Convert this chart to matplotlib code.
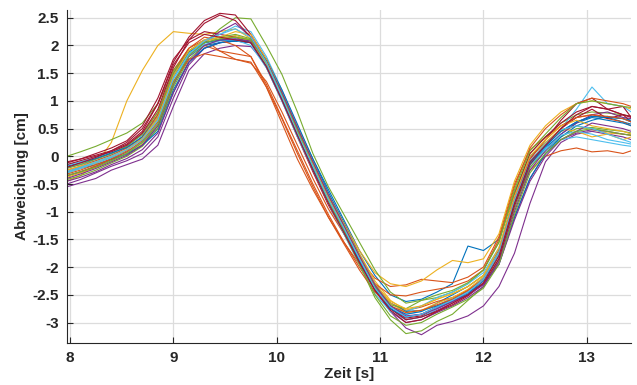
import numpy as np
import matplotlib
matplotlib.use("Agg")
import matplotlib.pyplot as plt

plt.rcParams['font.family'] = ['Liberation Sans', 'DejaVu Sans']

# Zeitachse (s)
zeit = [7.97, 8.10, 8.25, 8.40, 8.55, 8.70, 8.85, 9.00, 9.15, 9.30, 9.45, 9.60, 9.75, 9.90,
        10.05, 10.20, 10.35, 10.50, 10.65, 10.80, 10.95, 11.10, 11.25, 11.40, 11.55, 11.70,
        11.85, 12.00, 12.15, 12.30, 12.45, 12.60, 12.75, 12.90, 13.05, 13.20, 13.35, 13.43]

# Abweichung je Durchgang (cm)
d01 = [-0.30,-0.22,-0.15,-0.05,0.05,0.20,0.50,1.20,1.70,1.95,2.05,2.08,2.05,1.70,1.15,0.55,-0.05,-0.60,-1.15,-1.70,-2.15,-2.50,-2.62,-2.58,-2.45,-2.30,-1.62,-1.70,-1.50,-0.65,0.00,0.25,0.45,0.62,0.72,0.70,0.62,0.58]
d02 = [-0.20,-0.15,-0.05,0.05,0.18,0.40,0.80,1.55,1.95,2.10,1.90,1.75,1.68,1.35,0.80,0.20,-0.40,-0.95,-1.40,-1.85,-2.20,-2.35,-2.32,-2.22,-2.25,-2.28,-2.18,-2.00,-1.45,-0.50,0.12,0.35,0.55,0.70,0.75,0.68,0.62,0.55]
d03 = [-0.45,-0.35,-0.15,0.25,1.00,1.55,2.00,2.25,2.22,2.20,2.25,2.30,2.12,1.70,1.10,0.45,-0.15,-0.70,-1.20,-1.70,-2.10,-2.30,-2.35,-2.25,-2.05,-1.88,-1.92,-1.85,-1.40,-0.45,0.20,0.55,0.80,0.95,1.00,0.95,0.90,0.85]
d04 = [-0.55,-0.48,-0.40,-0.25,-0.15,-0.05,0.20,0.90,1.55,1.85,1.95,2.00,1.98,1.65,1.10,0.50,-0.10,-0.70,-1.25,-1.85,-2.40,-2.80,-3.10,-3.22,-3.05,-2.98,-2.88,-2.70,-2.35,-1.75,-0.85,-0.10,0.25,0.40,0.45,0.40,0.35,0.30]
d05 = [0.00,0.08,0.18,0.30,0.42,0.60,0.95,1.55,1.90,2.05,2.30,2.50,2.48,2.00,1.48,0.80,0.05,-0.55,-1.05,-1.55,-2.05,-2.45,-2.65,-2.60,-2.55,-2.45,-2.30,-2.05,-1.55,-0.65,0.05,0.35,0.60,0.75,0.80,0.78,0.75,0.72]
d06 = [-0.15,-0.10,-0.02,0.08,0.20,0.38,0.75,1.50,1.90,2.10,2.20,2.35,2.25,1.80,1.20,0.55,-0.10,-0.70,-1.25,-1.85,-2.35,-2.70,-2.85,-2.80,-2.70,-2.55,-2.45,-2.20,-1.75,-0.85,-0.20,0.15,0.50,0.85,1.25,0.95,0.90,0.80]
d07 = [-0.10,-0.05,0.02,0.10,0.22,0.45,0.95,1.70,2.15,2.45,2.58,2.55,2.20,1.75,1.15,0.50,-0.15,-0.75,-1.30,-1.85,-2.35,-2.70,-2.90,-2.85,-2.72,-2.60,-2.45,-2.20,-1.70,-0.75,-0.05,0.30,0.65,0.95,1.05,0.85,0.90,0.70]
d08 = [-0.28,-0.20,-0.12,-0.02,0.08,0.25,0.55,1.30,1.80,2.00,2.05,2.08,2.05,1.68,1.10,0.45,-0.12,-0.72,-1.25,-1.82,-2.35,-2.72,-2.85,-2.80,-2.65,-2.50,-2.35,-2.15,-1.70,-0.80,-0.15,0.15,0.40,0.60,0.70,0.65,0.60,0.55]
d09 = [-0.32,-0.25,-0.15,-0.05,0.10,0.35,0.75,1.45,1.85,2.00,1.90,1.85,1.80,1.30,0.70,0.10,-0.50,-1.05,-1.55,-2.00,-2.40,-2.65,-2.78,-2.72,-2.62,-2.55,-2.42,-2.20,-1.75,-0.85,-0.25,0.00,0.10,0.15,0.08,0.10,0.05,0.10]
d10 = [-0.38,-0.30,-0.20,-0.08,0.05,0.22,0.55,1.30,1.80,2.05,2.12,2.18,2.10,1.70,1.12,0.50,-0.10,-0.70,-1.20,-1.75,-2.25,-2.60,-2.78,-2.70,-2.58,-2.48,-2.35,-2.15,-1.70,-0.80,-0.10,0.22,0.45,0.55,0.48,0.42,0.40,0.38]
d11 = [-0.50,-0.42,-0.30,-0.18,-0.08,0.05,0.35,1.05,1.65,1.95,2.05,2.10,2.05,1.70,1.15,0.50,-0.15,-0.75,-1.30,-1.85,-2.35,-2.75,-2.95,-2.90,-2.78,-2.65,-2.50,-2.30,-1.90,-1.10,-0.40,0.05,0.30,0.42,0.48,0.45,0.40,0.38]
d12 = [-0.42,-0.35,-0.25,-0.12,0.00,0.18,0.50,1.25,1.75,2.00,2.10,2.15,2.10,1.68,1.08,0.42,-0.20,-0.82,-1.40,-1.95,-2.55,-2.95,-3.20,-3.15,-2.98,-2.85,-2.60,-2.35,-1.85,-0.95,-0.20,0.10,0.35,0.50,0.52,0.48,0.45,0.42]
d13 = [-0.20,-0.15,-0.08,0.03,0.15,0.32,0.65,1.40,1.85,2.05,2.10,2.12,2.05,1.65,1.05,0.40,-0.22,-0.80,-1.30,-1.85,-2.40,-2.72,-2.80,-2.70,-2.55,-2.45,-2.30,-2.10,-1.65,-0.75,-0.10,0.15,0.30,0.35,0.30,0.25,0.20,0.18]
d14 = [-0.12,-0.05,0.05,0.15,0.28,0.55,1.05,1.75,2.10,2.25,2.20,2.15,2.05,1.60,1.00,0.35,-0.28,-0.88,-1.38,-1.90,-2.40,-2.75,-2.92,-2.88,-2.75,-2.62,-2.45,-2.22,-1.70,-0.70,0.05,0.35,0.60,0.80,0.90,0.85,0.75,0.70]
d15 = [-0.35,-0.28,-0.18,-0.06,0.04,0.20,0.45,1.15,1.70,1.95,2.05,2.08,2.08,1.75,1.20,0.58,-0.05,-0.65,-1.20,-1.78,-2.30,-2.65,-2.80,-2.78,-2.70,-2.58,-2.45,-2.30,-1.95,-1.10,-0.40,0.05,0.35,0.55,0.65,0.72,0.68,0.62]
d16 = [-0.25,-0.18,-0.08,0.02,0.15,0.35,0.75,1.50,1.95,2.15,2.10,2.00,1.80,1.25,0.60,-0.05,-0.60,-1.10,-1.55,-1.95,-2.30,-2.50,-2.52,-2.45,-2.40,-2.35,-2.25,-2.05,-1.50,-0.55,0.15,0.50,0.75,0.95,1.05,1.00,0.95,0.90]
d17 = [-0.30,-0.22,-0.12,0.00,0.12,0.30,0.68,1.45,1.90,2.10,2.15,2.25,2.20,1.75,1.15,0.52,-0.10,-0.70,-1.22,-1.78,-2.30,-2.65,-2.82,-2.78,-2.65,-2.55,-2.40,-2.18,-1.72,-0.80,-0.10,0.25,0.50,0.45,0.35,0.40,0.30,0.35]
d18 = [-0.40,-0.32,-0.22,-0.10,0.02,0.20,0.55,1.30,1.80,2.05,2.25,2.40,2.15,1.70,1.10,0.45,-0.18,-0.78,-1.32,-1.88,-2.42,-2.80,-3.00,-2.95,-2.82,-2.70,-2.55,-2.35,-1.90,-1.00,-0.25,0.10,0.40,0.60,0.75,0.80,0.70,0.68]
d19 = [-0.22,-0.15,-0.05,0.05,0.18,0.40,0.80,1.50,1.90,2.08,2.15,2.20,2.12,1.72,1.12,0.48,-0.15,-0.75,-1.28,-1.82,-2.35,-2.68,-2.75,-2.60,-2.50,-2.42,-2.28,-2.05,-1.55,-0.60,0.10,0.40,0.70,0.95,1.00,0.95,0.90,0.88]
d20 = [-0.30,-0.22,-0.12,-0.02,0.08,0.25,0.60,1.35,1.82,2.02,2.08,2.10,2.00,1.60,1.00,0.35,-0.25,-0.85,-1.40,-1.95,-2.48,-2.80,-2.95,-2.90,-2.75,-2.60,-2.45,-2.20,-1.72,-0.80,-0.15,0.12,0.38,0.45,0.40,0.30,0.25,0.22]
d21 = [-0.15,-0.08,0.00,0.08,0.20,0.42,0.85,1.60,2.10,2.40,2.55,2.45,2.15,1.70,1.10,0.45,-0.18,-0.80,-1.35,-1.90,-2.40,-2.75,-2.95,-2.90,-2.80,-2.68,-2.52,-2.30,-1.85,-0.90,-0.15,0.20,0.50,0.70,0.85,0.68,0.75,0.62]
d22 = [-0.18,-0.12,-0.04,0.06,0.16,0.35,0.70,1.45,1.88,2.05,2.10,2.10,2.05,1.62,1.02,0.38,-0.22,-0.80,-1.32,-1.88,-2.40,-2.75,-2.90,-2.85,-2.72,-2.62,-2.48,-2.25,-1.78,-0.85,-0.12,0.18,0.45,0.62,0.72,0.70,0.68,0.65]
d23 = [-0.35,-0.28,-0.18,-0.05,0.08,0.28,0.62,1.35,1.75,1.85,1.80,1.75,1.70,1.25,0.68,0.05,-0.55,-1.10,-1.58,-2.05,-2.45,-2.70,-2.82,-2.78,-2.68,-2.58,-2.42,-2.22,-1.75,-0.80,-0.05,0.30,0.55,0.70,0.75,0.72,0.68,0.62]
d24 = [-0.25,-0.18,-0.10,0.00,0.12,0.32,0.70,1.45,1.90,2.08,2.15,2.15,2.08,1.68,1.10,0.45,-0.15,-0.75,-1.28,-1.82,-2.32,-2.62,-2.75,-2.70,-2.58,-2.48,-2.35,-2.15,-1.65,-0.72,0.00,0.30,0.55,0.65,0.55,0.50,0.45,0.40]
d25 = [-0.45,-0.38,-0.28,-0.15,-0.04,0.12,0.42,1.15,1.70,2.00,2.10,2.12,2.08,1.72,1.15,0.52,-0.10,-0.70,-1.25,-1.80,-2.32,-2.70,-2.88,-2.85,-2.75,-2.62,-2.50,-2.32,-1.95,-1.15,-0.45,0.00,0.30,0.45,0.60,0.55,0.50,0.45]
d26 = [-0.35,-0.28,-0.20,-0.08,0.05,0.25,0.58,1.32,1.82,2.05,2.12,2.15,2.10,1.70,1.10,0.45,-0.18,-0.80,-1.35,-1.95,-2.50,-2.88,-3.05,-3.00,-2.85,-2.72,-2.58,-2.38,-1.95,-1.05,-0.30,0.05,0.30,0.45,0.50,0.45,0.40,0.38]
d27 = [-0.28,-0.20,-0.10,0.00,0.12,0.30,0.65,1.40,1.85,2.08,2.20,2.30,2.15,1.70,1.08,0.42,-0.18,-0.78,-1.30,-1.85,-2.38,-2.72,-2.90,-2.85,-2.72,-2.60,-2.45,-2.22,-1.75,-0.80,-0.08,0.22,0.48,0.55,0.50,0.40,0.30,0.25]
d28 = [-0.20,-0.12,-0.02,0.10,0.25,0.50,0.95,1.65,2.05,2.20,2.15,2.10,2.05,1.62,1.02,0.38,-0.25,-0.85,-1.38,-1.92,-2.42,-2.78,-3.00,-2.95,-2.80,-2.65,-2.50,-2.28,-1.80,-0.85,-0.10,0.20,0.50,0.75,0.90,0.85,0.75,0.72]

durchgaenge = [d01, d02, d03, d04, d05, d06, d07, d08, d09, d10, d11, d12, d13, d14,
               d15, d16, d17, d18, d19, d20, d21, d22, d23, d24, d25, d26, d27, d28]

# MATLAB-Standardfarben
farben = ['#0072BD', '#D95319', '#EDB120', '#7E2F8E', '#77AC30', '#4DBEEE', '#A2142F']

fig = plt.figure(figsize=(6.37, 3.85), dpi=100)
ax = fig.add_axes([0.105, 0.109, 0.886, 0.865])

for i, d in enumerate(durchgaenge):
    ax.plot(zeit, d, color=farben[i % len(farben)], linewidth=0.8)

ax.set_xlim(7.97, 13.43)
ax.set_ylim(-3.37, 2.64)
ax.set_xticks([8, 9, 10, 11, 12, 13])
ax.set_yticks(np.arange(-3, 2.51, 0.5))
ax.set_xticklabels(['8', '9', '10', '11', '12', '13'])
ax.set_yticklabels(['-3', '-2.5', '-2', '-1.5', '-1', '-0.5', '0', '0.5', '1', '1.5', '2', '2.5'])

ax.grid(True, color='#dcdcdc', linewidth=0.9)
ax.set_axisbelow(True)
ax.spines['top'].set_visible(False)
ax.spines['right'].set_visible(False)
ax.spines['left'].set_color('#262626')
ax.spines['bottom'].set_color('#262626')
ax.tick_params(direction='in', length=4, width=0.8, colors='#262626', labelsize=11, pad=6)
for lbl in ax.get_xticklabels() + ax.get_yticklabels():
    lbl.set_fontweight('bold')

ax.set_xlabel('Zeit [s]', fontsize=11, fontweight='bold', color='#262626', labelpad=1)
ax.set_ylabel('Abweichung [cm]', fontsize=11, fontweight='bold', color='#262626', labelpad=2)

plt.savefig('out.png', dpi=100)
